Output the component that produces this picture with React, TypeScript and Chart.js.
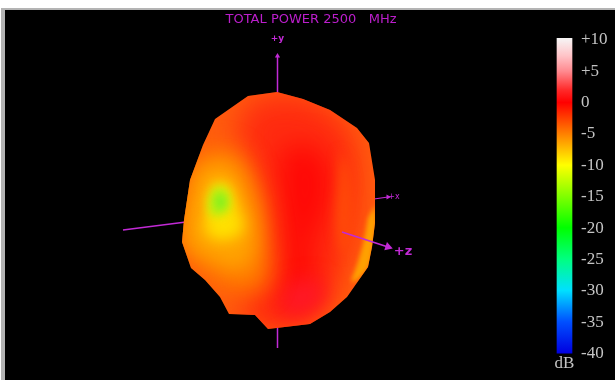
import React, { useEffect, useRef } from "react";
import { Chart, registerables } from "chart.js";

type P = [number, number];

const titleText = "TOTAL POWER 2500   MHz";
const colorbarTicks = [10, 5, 0, -5, -10, -15, -20, -25, -30, -35, -40];
const colorbarStops: [number, string][] = [
  [10.3, "#f6f6f6"], [7.5, "#ffc4c8"], [5, "#ff8a90"], [2, "#ff2a2a"], [0, "#ff0000"],
  [-5, "#ff8000"], [-10, "#ffff00"], [-15, "#80ff00"], [-20, "#00ff00"], [-25, "#00ff80"],
  [-30, "#00e0ff"], [-35, "#0050ff"], [-40, "#0000e0"],
];

const outline: P[] = [[277, 92], [248, 96], [215, 119], [203, 145], [190, 180], [184, 220], [182, 242], [191, 268], [205, 280], [220, 297], [229, 314], [255, 315], [268, 329], [310, 324], [330, 312], [347, 297], [368, 267], [372, 247], [375, 223], [375, 180], [369, 143], [357, 128], [330, 110], [303, 99]];
const redZone: P[] = [[250, 100], [300, 96], [345, 125], [358, 170], [352, 235], [335, 285], [305, 325], [255, 325], [240, 290], [252, 240], [250, 180], [236, 130]];
const deepRed: P[] = [[280, 150], [310, 145], [330, 170], [328, 205], [312, 250], [316, 290], [292, 310], [278, 295], [285, 250], [280, 195]];
const crimson: P[] = [[285, 285], [318, 280], [325, 298], [300, 316], [280, 312]];
const rightArc: P[] = [[340, 150], [350, 175], [352, 225], [344, 255], [336, 225], [338, 180]];
const rim: P[] = [[375, 205], [376, 225], [373, 248], [368, 268], [352, 282], [358, 262], [364, 240], [368, 218]];
const leftOrange: P[] = [[200, 150], [232, 150], [258, 185], [268, 235], [268, 285], [238, 295], [205, 272], [180, 240], [188, 185]];
const amber: P[] = [[196, 168], [228, 162], [246, 192], [256, 238], [244, 268], [212, 262], [186, 242], [188, 200]];
const yellow: P[] = [[214, 182], [228, 184], [238, 208], [243, 230], [226, 240], [208, 235], [205, 215], [208, 196]];
const darkPatch: P[] = [[194, 203], [208, 202], [209, 216], [194, 220]];
const limeZone: P[] = [[214, 186], [226, 188], [230, 206], [222, 216], [210, 214], [208, 200]];
const green: P[] = [[215, 195], [224, 195], [225, 207], [216, 210]];

const axisYLine: P[] = [[277.5, 56], [277.5, 348]];
const axisXPos: P[] = [[374, 199], [388, 197]];
const axisXNeg: P[] = [[123, 230], [186, 222]];
const axisZLine: P[] = [[342, 232], [388, 247]];
const tipY: P[] = [[277.5, 56]];
const tipX: P[] = [[388, 197]];
const tipZ: P[] = [[388, 247]];
const axisLabels: { text: string; at: P; font: string }[] = [
  { text: "+y", at: [277.5, 39], font: "bold 9px 'DejaVu Sans'" },
  { text: "+x", at: [394, 197], font: "8px 'DejaVu Sans'" },
  { text: "+z", at: [403, 252], font: "bold 13px 'DejaVu Sans'" },
];

const MAGENTA = "#c22ad6";
const pts = (a: P[]) => a.map(([x, y]) => ({ x, y }));

const heatBlur = {
  id: "heatBlur",
  beforeDatasetDraw(chart: any, args: any) {
    const ds = chart.data.datasets[args.index];
    if (ds.blur === undefined) return;
    const { ctx, scales } = chart;
    ctx.save();
    ctx.beginPath();
    outline.forEach(([x, y], i) => {
      const px = scales.x.getPixelForValue(x);
      const py = scales.y.getPixelForValue(y);
      if (i) ctx.lineTo(px, py); else ctx.moveTo(px, py);
    });
    ctx.closePath();
    ctx.clip();
    ctx.filter = `blur(${ds.blur}px)`;
  },
  afterDatasetDraw(chart: any, args: any) {
    if (chart.data.datasets[args.index].blur === undefined) return;
    chart.ctx.restore();
  },
};

Chart.register(heatBlur);
Chart.register(...registerables);

const frame = {
  id: "frame",
  beforeDraw(chart: any) {
    const { ctx, width, height } = chart;
    ctx.save();
    ctx.fillStyle = "#ffffff";
    ctx.fillRect(0, 0, width, height);
    ctx.fillStyle = "#b4b4b4";
    ctx.fillRect(1, 8, width, height);
    ctx.fillStyle = "#000000";
    ctx.fillRect(5, 10, width, height);
    ctx.restore();
  },
};

const labelsPlugin = {
  id: "axisText",
  afterDatasetsDraw(chart: any) {
    const { ctx, scales } = chart;
    ctx.save();
    ctx.fillStyle = MAGENTA;
    ctx.textAlign = "center";
    ctx.textBaseline = "middle";
    axisLabels.forEach((l) => {
      ctx.font = l.font;
      ctx.fillText(l.text, scales.x.getPixelForValue(l.at[0]), scales.y.getPixelForValue(l.at[1]));
    });
    ctx.restore();
  },
};

const heat = (data: P[], color: string, blur: number) => ({
  data: pts(data), showLine: true, fill: "shape", backgroundColor: color, borderColor: "transparent",
  borderWidth: 0, pointRadius: 0, tension: 0.4, blur,
});
const line = (data: P[], width = 1.5) => ({
  data: pts(data), showLine: true, fill: false, borderColor: MAGENTA, backgroundColor: MAGENTA,
  borderWidth: width, pointRadius: 0, tension: 0,
});
const tip = (data: P[], r: number, rotation: number) => ({
  data: pts(data), showLine: false, pointStyle: "triangle", pointRadius: r, rotation,
  backgroundColor: MAGENTA, borderColor: MAGENTA, borderWidth: 0,
});

export default function App() {
  const mainRef = useRef<HTMLCanvasElement>(null);
  const barRef = useRef<HTMLCanvasElement>(null);

  useEffect(() => {
    const bottomToTop: any[] = [
      line(axisYLine), line(axisXNeg), line(axisXPos, 1.2), tip(tipY, 3, 0), tip(tipX, 3, 90),
      { ...heat(outline, "#ff5c0e", 0), tension: 0, blur: undefined },
      heat(redZone, "#ff2c10", 14),
      heat(deepRed, "#ff0806", 14),
      heat(crimson, "#ff1826", 10),
      heat(rightArc, "#ff4a08", 6),
      heat(rim, "#ffa000", 2),
      heat(leftOrange, "#ff7a00", 12),
      heat(amber, "#ffa400", 10),
      heat(darkPatch, "#ff9800", 5),
      heat(yellow, "#ffe000", 7),
      heat(limeZone, "#c0ee10", 5),
      heat(green, "#7ff020", 4),
      line(axisZLine, 1.8), tip(tipZ, 5, 108),
    ];
    const main = new Chart(mainRef.current!, {
      type: "scatter",
      data: { datasets: bottomToTop.reverse() },
      options: {
        responsive: false,
        animation: false,
        layout: { autoPadding: false, padding: { left: 7, top: 0, right: 0, bottom: 0 } },
        scales: {
          x: { type: "linear", display: false, min: 7, max: 615 },
          y: { type: "linear", display: false, reverse: true, min: 30, max: 380 },
        },
        plugins: {
          legend: { display: false },
          tooltip: { enabled: false },
          title: {
            display: true, text: titleText, color: "#bc1ecc", fullSize: false,
            font: { family: "'DejaVu Sans'", size: 13, weight: "normal", lineHeight: 1.2 },
            padding: { top: 12.2, bottom: 2.2 },
          },
        },
      } as any,
      plugins: [frame, labelsPlugin],
    } as any);

    const gradient = barRef.current!.getContext("2d")!.createLinearGradient(0, 38, 0, 353);
    colorbarStops.forEach(([v, col]) => gradient.addColorStop((10.3 - v) / 50.3, col));

    const bar = new Chart(barRef.current!, {
      type: "bar",
      data: {
        labels: ["dB"],
        datasets: [{
          data: [[-40, 10.3]],
          barThickness: 15,
          borderSkipped: false,
          backgroundColor: gradient,
        }],
      },
      options: {
        responsive: false,
        animation: false,
        layout: { padding: { left: 4, top: 38, right: 0, bottom: 6 } },
        scales: {
          x: {
            grid: { display: false, drawTicks: false }, border: { display: false },
            ticks: { color: "#c4c4c4", padding: 0, font: { family: "'Liberation Serif'", size: 17 } },
          },
          y: {
            position: "right", min: -40, max: 10.3,
            grid: { display: false, drawTicks: false }, border: { display: false },
            afterBuildTicks: (s: any) => { s.ticks = colorbarTicks.map((value) => ({ value })); },
            afterFit: (s: any) => { s.width = 35; },
            ticks: {
              color: "#c4c4c4", padding: 1, autoSkip: false,
              font: { family: "'Liberation Serif'", size: 17 },
              callback: (v: any) => (v > 0 ? `+${v}` : `${v}`),
            },
          },
        },
        plugins: { legend: { display: false }, tooltip: { enabled: false } },
      } as any,
    } as any);

    return () => { main.destroy(); bar.destroy(); };
  }, []);

  return (
    <div style={{ position: "fixed", left: 0, top: 0, width: 615, height: 380, overflow: "hidden" }}>
      <canvas ref={mainRef} width={615} height={380} style={{ position: "absolute", left: 0, top: 0 }} />
      <canvas ref={barRef} width={70} height={380} style={{ position: "absolute", left: 545, top: 0 }} />
    </div>
  );
}
